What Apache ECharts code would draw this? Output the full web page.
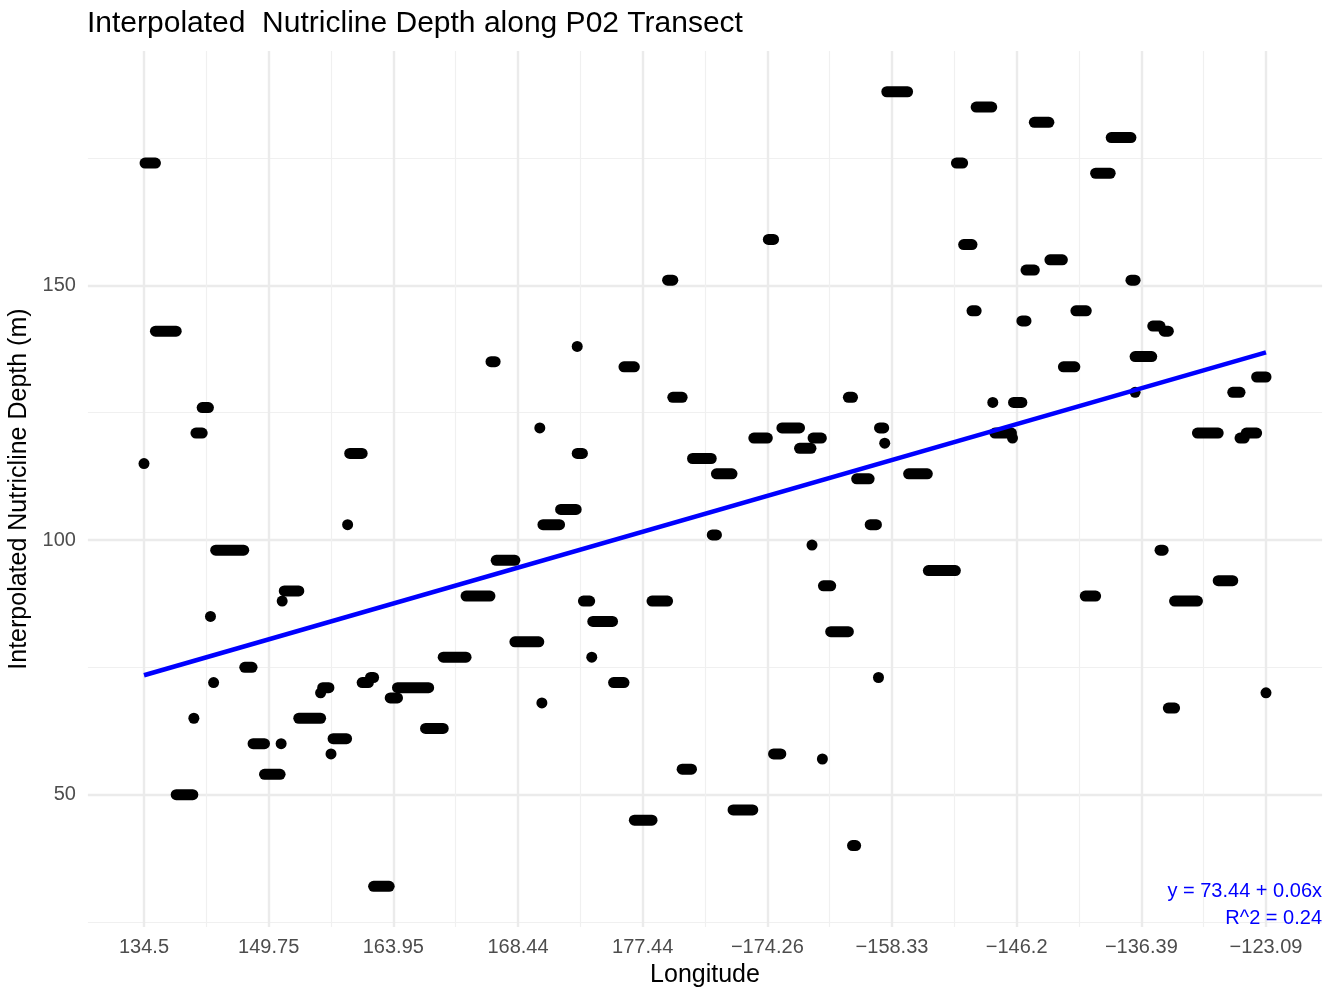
<!DOCTYPE html>
<html>
<head>
<meta charset="utf-8">
<script src="https://cdn.jsdelivr.net/npm/echarts@6/dist/echarts.min.js"></script>
<style>html,body{margin:0;padding:0;background:#fff}#c{width:1338px;height:990px}</style>
</head>
<body>
<div id="c"></div>
<script>
// ---- data (x = station index along the transect) ----
const xTickLabels = ['134.5','149.75','163.95','168.44','177.44','\u2212174.26','\u2212158.33','\u2212146.2','\u2212136.39','\u2212123.09'];
const xTickStep = 120;
const yTickStep = 50;

const xStart = [0,1,11,31,48,50,56,64,67,69,97,105,116,132,133,135,149,170,172,180,182,196,198,210,218,221,237,244,271,288,310,334,339,357,381,383,384,401,417,417,423,431,432,452,462,472,489,504,509,518,528,547,551,567,587,601,606,614,631,643,644,653,654,661,678,682,686,699,707,708,713,715,736,755,782,789,797,801,817,819,836,837,845,849,857,872,885,897,906,916,931,950,954,954,971,978,982,986,992,1014,1034,1048,1055,1061,1071,1080];
const xEnd   = [0,11,31,47,48,56,62,64,67,96,104,116,131,132,133,149,170,170,178,180,195,196,210,216,221,236,244,274,288,310,333,338,357,380,381,383,400,416,417,422,429,431,451,462,472,489,504,509,518,527,546,551,566,586,600,606,613,631,642,643,652,653,661,678,682,685,698,705,707,712,713,735,754,781,788,797,801,816,817,835,836,845,849,857,871,884,896,907,916,930,950,954,954,970,978,981,986,992,1014,1034,1048,1055,1059,1071,1080,1080];
const depth  = [115,174,141,50,65,121,126,85,72,98,75,60,54,60,88,90,65,70,71,58,61,103,117,72,73,32,69,71,63,77,89,135,96,80,122,68,103,106,138,117,88,77,84,72,134,45,88,151,128,55,116,101,113,47,120,159,58,122,118,99,120,57,91,82,128,40,112,103,73,122,119,188,113,94,174,158,145,185,127,121,120,127,143,153,182,155,134,145,89,172,179,151,129,136,142,98,141,67,88,121,92,129,120,121,132,70];

const fitIntercept = 73.44;
const fitSlope = 0.0587;
const rSquared = 0.24;

// ---- chart ----
const FONT = '"Liberation Sans", Arial, Helvetica, sans-serif';
const X_MIN = -54, X_MAX = 1134, X_FINE = 6;
const Y_MIN = 24, Y_MAX = 196, Y_FINE = 1;
const CLEAR = 'rgba(0,0,0,0)';
const MAJOR = '#EBEBEB', MINOR = '#F0F0F0';

function cycleColors(period, offsetValue, minVal, fine, color) {
  const n = Math.round(period / fine);
  const idx = Math.round((offsetValue - minVal) / fine) % n;
  return Array.from({length: n}, (_, i) => i === idx ? color : CLEAR);
}

const xMajorColors = cycleColors(xTickStep, 0, X_MIN, X_FINE, MAJOR);
const xMinorColors = cycleColors(xTickStep, xTickStep / 2, X_MIN, X_FINE, MINOR);
const yMajorColors = cycleColors(yTickStep, 50, Y_MIN, Y_FINE, MAJOR);
const yMinorColors = cycleColors(yTickStep, 25, Y_MIN, Y_FINE, MINOR);

const xLo = Math.min(...xStart), xHi = Math.max(...xEnd);
const fitLine = [[xLo, fitIntercept + fitSlope * xLo], [xHi, fitIntercept + fitSlope * xHi]];

const chart = echarts.init(document.getElementById('c'), null, {renderer: 'canvas'});

const option = {
  animation: false,
  backgroundColor: '#ffffff',
  title: {
    text: 'Interpolated  Nutricline Depth along P02 Transect',
    left: 87, top: 9, padding: 0,
    textStyle: {fontFamily: FONT, fontSize: 30, fontWeight: 'normal', color: '#000'}
  },
  grid: {left: 87.9, top: 51, width: 1234.2, height: 876.1, containLabel: false, outerBoundsMode: 'none'},
  xAxis: [{
    type: 'value', min: X_MIN, max: X_MAX, interval: X_FINE,
    name: 'Longitude', nameLocation: 'middle', nameGap: 36,
    nameTextStyle: {fontFamily: FONT, fontSize: 25, color: '#000'},
    axisLine: {show: false}, axisTick: {show: false},
    axisLabel: {
      margin: 10, fontFamily: FONT, fontSize: 20, color: '#4D4D4D',
      showMinLabel: true, showMaxLabel: true, hideOverlap: false,
      formatter: v => {
        const k = v / xTickStep;
        if (Math.abs(k - Math.round(k)) < 1e-6 && Math.round(k) >= 0 && Math.round(k) < xTickLabels.length) return xTickLabels[Math.round(k)];
        return '';
      }
    },
    splitLine: {show: true, lineStyle: {color: xMajorColors, width: 2.4}}
  }, {
    type: 'value', min: X_MIN, max: X_MAX, interval: X_FINE, position: 'bottom',
    axisLine: {show: false}, axisTick: {show: false}, axisLabel: {show: false},
    splitLine: {show: true, lineStyle: {color: xMinorColors, width: 1.2}}
  }],
  yAxis: [{
    type: 'value', min: Y_MIN, max: Y_MAX, interval: Y_FINE,
    name: 'Interpolated Nutricline Depth (m)', nameLocation: 'middle', nameGap: 52,
    nameTextStyle: {fontFamily: FONT, fontSize: 25, color: '#000'},
    axisLine: {show: false}, axisTick: {show: false},
    axisLabel: {
      margin: 12, fontFamily: FONT, fontSize: 20, color: '#4D4D4D',
      showMinLabel: true, showMaxLabel: true, hideOverlap: false,
      formatter: v => (Math.abs(v % yTickStep) < 1e-6 ? String(v) : '')
    },
    splitLine: {show: true, lineStyle: {color: yMajorColors, width: 2.4}}
  }, {
    type: 'value', min: Y_MIN, max: Y_MAX, interval: Y_FINE, position: 'left',
    axisLine: {show: false}, axisTick: {show: false}, axisLabel: {show: false},
    splitLine: {show: true, lineStyle: {color: yMinorColors, width: 1.2}}
  }],
  series: [{
    type: 'custom', xAxisIndex: 0, yAxisIndex: 0, silent: true, z: 2,
    data: xStart.map((s, i) => [s, xEnd[i], depth[i]]),
    encode: {x: [0, 1], y: 2},
    renderItem: (params, api) => {
      const a = api.coord([api.value(0), api.value(2)]);
      const b = api.coord([api.value(1), api.value(2)]);
      const r = 5.5;
      return {
        type: 'rect',
        shape: {x: a[0] - r, y: a[1] - r, width: b[0] - a[0] + 2 * r, height: 2 * r, r: r},
        style: {fill: '#000000'}
      };
    }
  }, {
    type: 'line', xAxisIndex: 0, yAxisIndex: 0, silent: true, z: 3,
    data: fitLine, symbol: 'none',
    lineStyle: {color: '#0000FF', width: 4.5}
  }],
  graphic: [{
    type: 'text', x: 1322, y: 891, z: 100, zlevel: 1, silent: true,
    style: {text: 'y = ' + fitIntercept.toFixed(2) + ' + ' + fitSlope.toFixed(2) + 'x', fill: '#0000FF',
            font: '20px ' + FONT, align: 'right', verticalAlign: 'middle'}
  }, {
    type: 'text', x: 1322, y: 918, z: 100, zlevel: 1, silent: true,
    style: {text: 'R^2 = ' + rSquared.toFixed(2), fill: '#0000FF',
            font: '20px ' + FONT, align: 'right', verticalAlign: 'middle'}
  }]
};
chart.setOption(option);
</script>
</body>
</html>
